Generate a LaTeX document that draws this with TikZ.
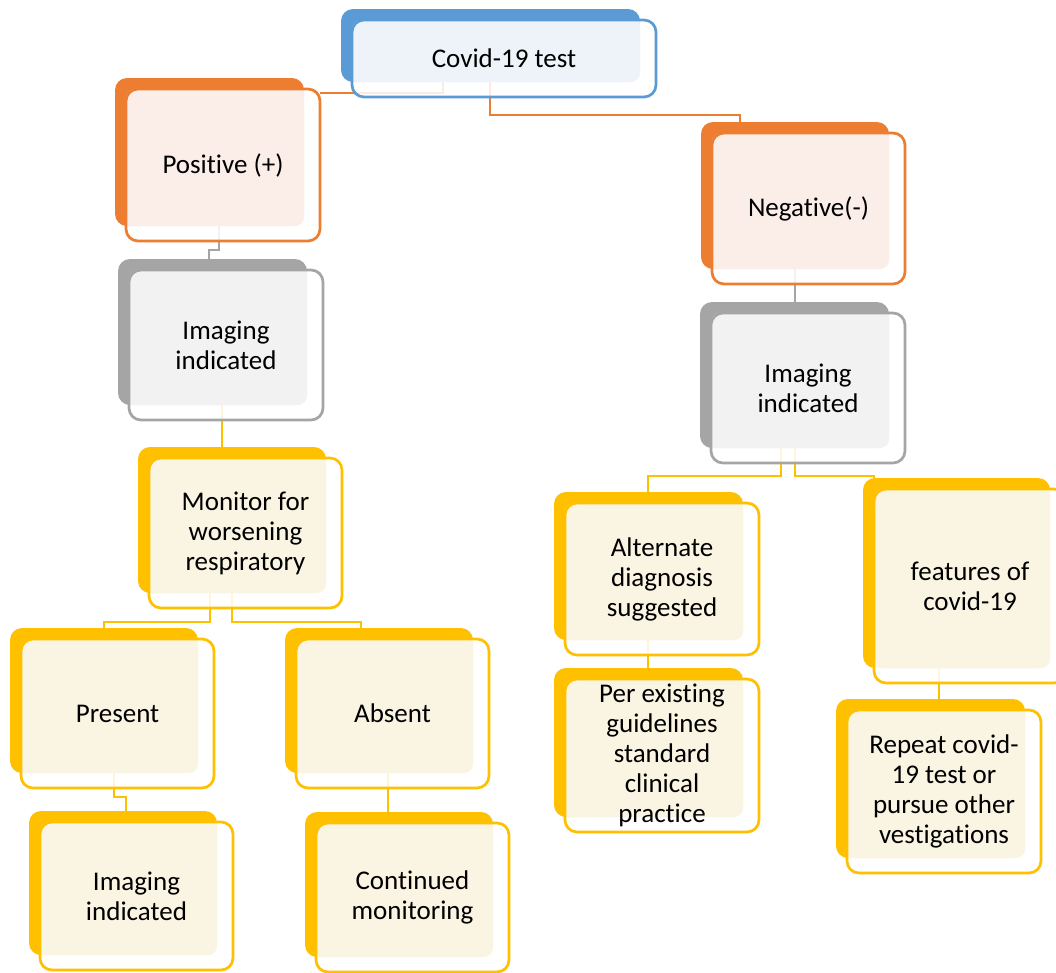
\documentclass[tikz,border=0pt]{standalone}
\usepackage{fontspec}
\setmainfont[Ligatures={NoCommon,NoRare}]{Carlito}
\definecolor{cb}{HTML}{5B9BD5}\definecolor{cbL}{HTML}{EEF3FA}
\definecolor{co}{HTML}{ED7D31}\definecolor{coL}{HTML}{FBEEE8}
\definecolor{cg}{HTML}{A5A5A5}\definecolor{cgL}{HTML}{F2F2F2}
\definecolor{cy}{HTML}{FFC000}\definecolor{cyL}{HTML}{FAF4E3}
\pgfdeclarelayer{bgl}
\pgfdeclarelayer{conn}
\pgfdeclarelayer{fills}
\pgfsetlayers{bgl,conn,fills,main}
% #1 name, #2 colour, #3 x1, #4 y1, #5 x2, #6 y2 (front box), #7 text
\newcommand\smbox[7]{%
  \begin{pgfonlayer}{fills}
    \fill[#2, rounded corners=12pt] (#3-11,#4-11) rectangle (#5-16,#6-15);
    \fill[white, fill opacity=.85, rounded corners=12pt] (#3,#4) rectangle (#5,#6);
    \fill[#2L, rounded corners=9pt] (#3,#4) rectangle (#5-16,#6-15);
  \end{pgfonlayer}
  \node[frontbox=#2, minimum width={(#5-#3)*1pt}, minimum height={(#6-#4)*1pt}]
    (#1) at ({(#3+#5)/2},{(#4+#6)/2}) {#7};
}
\begin{document}
\begin{tikzpicture}[x=1pt,y=-1pt,
  link/.style={draw=#1, line width=2.8pt},
  frontbox/.style={draw=#1, line width=2.7pt, rounded corners=12pt, inner sep=0pt,
    outer sep=0pt, align=center, font=\fontsize{27}{30}\selectfont}]
\useasboundingbox (0,0) rectangle (1056,972);
\begin{pgfonlayer}{bgl}
  \fill[white] (0,0) rectangle (1056,972);
\end{pgfonlayer}

\smbox{cov}{cb}{352}{20}{656}{97}{Covid-19 test}
\smbox{pos}{co}{126}{89}{320}{241}{Positive (+)}
\smbox{neg}{co}{712}{133}{905}{284}{Negative(-)}
\smbox{imgL}{cg}{129}{270}{323}{420}{Imaging\\indicated}
\smbox{imgR}{cg}{711}{313}{905}{463}{Imaging\\indicated}
\smbox{mon}{cy}{149}{458}{342}{608}{Monitor for\\worsening\\respiratory}
\smbox{pre}{cy}{21}{639}{214}{788}{Present}
\smbox{abs}{cy}{296}{639}{489}{788}{Absent}
\smbox{imgB}{cy}{40}{822}{233}{970}{Imaging\\indicated}
\smbox{cont}{cy}{316}{823}{509}{972}{Continued\\monitoring}
\smbox{alt}{cy}{565}{503}{759}{655}{Alternate\\diagnosis\\suggested}
\smbox{per}{cy}{565}{679}{759}{832}{Per existing\\guidelines\\standard\\clinical\\practice}
\smbox{feat}{cy}{874}{489}{1066}{683}{features of\\covid-19}
\smbox{rep}{cy}{847}{710}{1041}{873}{Repeat covid-\\19 test or\\pursue other\\vestigations}

\begin{pgfonlayer}{conn}
  \draw[link=co] ([xshift=-61]cov.center) |- ([yshift=-4]pos.north east);
  \draw[link=co] ([xshift=-14]cov.center) -- ++(0,56.5) -| ([xshift=-68.5]neg.north);
  \draw[link=cg] ([xshift=-4]pos.center) -- ++(0,85) -| ([xshift=-17]imgL.north);
  \draw[link=cy] ([xshift=-4]imgL.center) -- ([xshift=-23.5]mon.north);
  \draw[link=cy] ([xshift=-35.5]mon.center) -- ++(0,89) -| ([xshift=-13.5]pre.north);
  \draw[link=cy] ([xshift=-13.5]mon.center) -- ++(0,89) -| ([xshift=-31.5]abs.north);
  \draw[link=cy] ([xshift=-3.5]pre.center) -- ++(0,83.5) -| ([xshift=-10.5]imgB.north);
  \draw[link=cy] ([xshift=-4.5]abs.center) -- ([xshift=-24.5]cont.north);
  \draw[link=cg] ([xshift=-13.5]neg.center) -- ([xshift=-13]imgR.north);
  \draw[link=cy] ([xshift=-27]imgR.center) -- ++(0,88) -| ([xshift=-14]alt.north);
  \draw[link=cy] ([xshift=-13]imgR.center) -- ++(0,88) -| (feat.north west);
  \draw[link=cy] ([xshift=-14]alt.center) -- ([xshift=-14]per.north);
  \draw[link=cy] ([xshift=-31]feat.center) -- ([xshift=-5]rep.north);
\end{pgfonlayer}
\end{tikzpicture}
\end{document}
